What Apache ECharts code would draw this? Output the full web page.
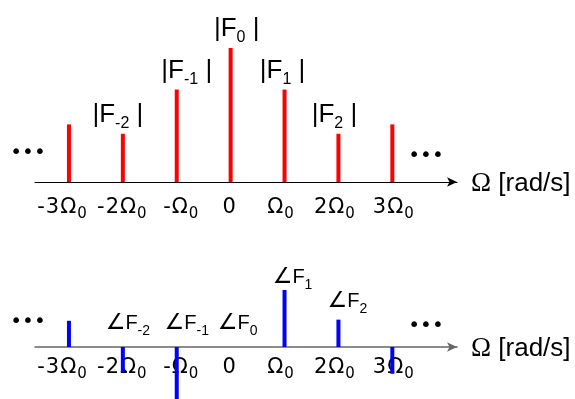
<!DOCTYPE html>
<html>
<head>
<meta charset="utf-8">
<script src="https://cdn.jsdelivr.net/npm/echarts@6/dist/echarts.min.js"></script>
<style>
  html, body { margin: 0; padding: 0; background: #fff; }
  #chart { width: 575px; height: 399px; }
</style>
</head>
<body>
<div id="chart"></div>
<script>
// Harmonic index n (line at frequency nΩ0)
const harmonics = [-3, -2, -1, 0, 1, 2, 3];
// Magnitude spectrum |F_n|, relative to |F_0|
const magnitudes = [0.43, 0.36, 0.69, 1.0, 0.69, 0.36, 0.43];
// Phase spectrum ∠F_n, relative to ∠F_1
const phases = [0.46, -0.44, -1.0, 0, 1.0, 0.48, -0.47];
// Frequency tick labels ("_" starts a subscript)
const tickLabels = ['-3Ω_0', '-2Ω_0', '-Ω_0', '0', 'Ω_0', '2Ω_0', '3Ω_0'];
// Line labels
const magLabels = ['', '|F_{-2} |', '|F_{-1} |', '|F_{0} |', '|F_{1} |', '|F_{2} |', ''];
const phaseLabels = ['', '∠F_{-2}', '∠F_{-1}', '∠F_{0}', '∠F_{1}', '∠F_{2}', ''];
const axisTitle = 'Ω [rad/s]';
const ellipsis = '•••';

const SANS = '"Liberation Sans", Arial, "DejaVu Sans", sans-serif';
const WIDE = '"DejaVu Sans", sans-serif';

// x-axis scale: value range and pixel extent of the plot area
const X_MIN = -3.63, X_MAX = 4.2, PLOT_LEFT = 35, PLOT_RIGHT = 118;
const PX_PER_UNIT = (575 - PLOT_LEFT - PLOT_RIGHT) / (X_MAX - X_MIN);
// small horizontal nudges (px) of the frequency labels
const tickNudge = [-7, -1, 4, -1, -4, -4, 1];
const tickPositions = harmonics.map((n, i) => n + tickNudge[i] / PX_PER_UNIT);

// 'A_{B}C' -> rich text with B as a subscript; spread=true puts each
// main-size character in its own (padded) token
function toRich(s, m, sb, spread) {
  if (!s) return '';
  const k = s.match(/^(.*?)_(?:\{([^}]*)\}|(\S))(.*)$/);
  const wrap = t => spread
    ? Array.from(t).map(c => '{' + m + '|' + c + '}').join('')
    : '{' + m + '|' + t + '}';
  if (!k) return wrap(s);
  const sub = k[2] !== undefined ? k[2] : k[3];
  let out = wrap(k[1]) + '{' + sb + '|' + sub + '}';
  if (k[4]) out += wrap(k[4]);
  return out;
}

const tickRich = {
  m: { fontFamily: WIDE, fontSize: 21, color: '#000', lineHeight: 29, padding: [0, 1, 0, 0] },
  s: { fontFamily: WIDE, fontSize: 15, color: '#000', padding: [14, 0, 0, 0] }
};
const magRich = {
  m: { fontFamily: SANS, fontSize: 26, color: '#000', lineHeight: 34 },
  s: { fontFamily: SANS, fontSize: 16, color: '#000', padding: [18, 0, 0, 0] }
};
const phaseRich = {
  a: { fontFamily: WIDE, fontSize: 22, color: '#000', lineHeight: 30 },
  m: { fontFamily: SANS, fontSize: 20, color: '#000', lineHeight: 30 },
  s: { fontFamily: SANS, fontSize: 14, color: '#000', padding: [16, 0, 0, 0] }
};
const nameRich = {
  o: { fontFamily: '"Liberation Serif", serif', fontSize: 27, color: '#000' },
  t: { fontFamily: SANS, fontSize: 26, color: '#000' }
};

// horizontal/vertical nudges of the line labels
const magLabelOffsets = [[0, 0], [-5, 0], [10, 0], [6, 0], [-2, 0], [-4, 0], [0, 0]];
const phaseLabelOffsets = [[0, 0], [5, -6], [10, -6], [7, -6], [8, 5], [9, 0], [0, 0]];

function freqAxis(gridIndex, lineColor, lineWidth, margin, offset) {
  return {
    type: 'value', gridIndex: gridIndex,
    min: X_MIN, max: X_MAX,
    offset: offset,
    splitLine: { show: false },
    axisTick: { show: false },
    axisLine: {
      onZero: false,
      symbol: ['none', 'arrow'], symbolSize: [7, 10],
      lineStyle: { color: lineColor, width: lineWidth }
    },
    axisLabel: {
      customValues: tickPositions,
      margin: margin,
      formatter: function (v) {
        const i = harmonics.indexOf(Math.round(v));
        return i < 0 ? '' : toRich(tickLabels[i], 'm', 's', true);
      },
      rich: tickRich
    },
    name: '{o|' + axisTitle.slice(0, 1) + '}{t|' + axisTitle.slice(1) + '}',
    nameLocation: 'end',
    nameGap: 14,
    nameTextStyle: { rich: nameRich, padding: [4, 0, 0, 0] }
  };
}

const chart = echarts.init(document.getElementById('chart'), null, { renderer: 'canvas' });

chart.setOption({
  animation: false,
  backgroundColor: '#fff',
  grid: [
    { left: PLOT_LEFT, right: PLOT_RIGHT, top: 48, height: 134, outerBoundsMode: 'none' },
    { left: PLOT_LEFT, right: PLOT_RIGHT, top: 290, height: 114, outerBoundsMode: 'none' }
  ],
  xAxis: [
    freqAxis(0, '#000', 1.2, 11, 0),
    // the frequency axis of the phase plot sits at zero phase (middle of the grid)
    freqAxis(1, '#666', 1.6, 6, -57)
  ],
  yAxis: [
    { type: 'value', gridIndex: 0, min: 0, max: 1, show: false },
    { type: 'value', gridIndex: 1, min: -1, max: 1, show: false }
  ],
  series: [
    {
      name: 'magnitude', type: 'bar', xAxisIndex: 0, yAxisIndex: 0,
      barWidth: 4,
      itemStyle: { color: '#ff0000' },
      data: harmonics.map((n, i) => ({
        value: [n, magnitudes[i]],
        label: { offset: magLabelOffsets[i] }
      })),
      label: {
        show: true, position: 'top', distance: 2,
        formatter: p => toRich(magLabels[p.dataIndex], 'm', 's'),
        rich: magRich
      }
    },
    {
      name: 'phase', type: 'bar', xAxisIndex: 1, yAxisIndex: 1,
      barWidth: 4,
      itemStyle: { color: '#0000ff' },
      data: harmonics.map((n, i) => [n, phases[i]])
    },
    {
      // label anchors at the upper end of each phase line (or on the axis)
      name: 'phaseLabels', type: 'scatter', xAxisIndex: 1, yAxisIndex: 1,
      symbolSize: 0, silent: true,
      itemStyle: { opacity: 1 },
      data: harmonics.map((n, i) => ({
        value: [n, Math.max(phases[i], 0)],
        label: { offset: phaseLabelOffsets[i] }
      })),
      label: {
        show: true, position: 'top', distance: 3, color: '#000', opacity: 1,
        formatter: p => toRich(phaseLabels[p.dataIndex], 'm', 's').replace('{m|∠', '{a|∠}{m|'),
        rich: phaseRich
      }
    }
  ],
  graphic: [
    [28, 153], [426, 156], [28, 322], [426, 326]
  ].map(pt => ({
    type: 'text', x: pt[0], y: pt[1], silent: true,
    style: {
      text: ellipsis, fill: '#000',
      font: '20px "DejaVu Sans", sans-serif',
      align: 'center', verticalAlign: 'middle'
    }
  }))
});
</script>
</body>
</html>
